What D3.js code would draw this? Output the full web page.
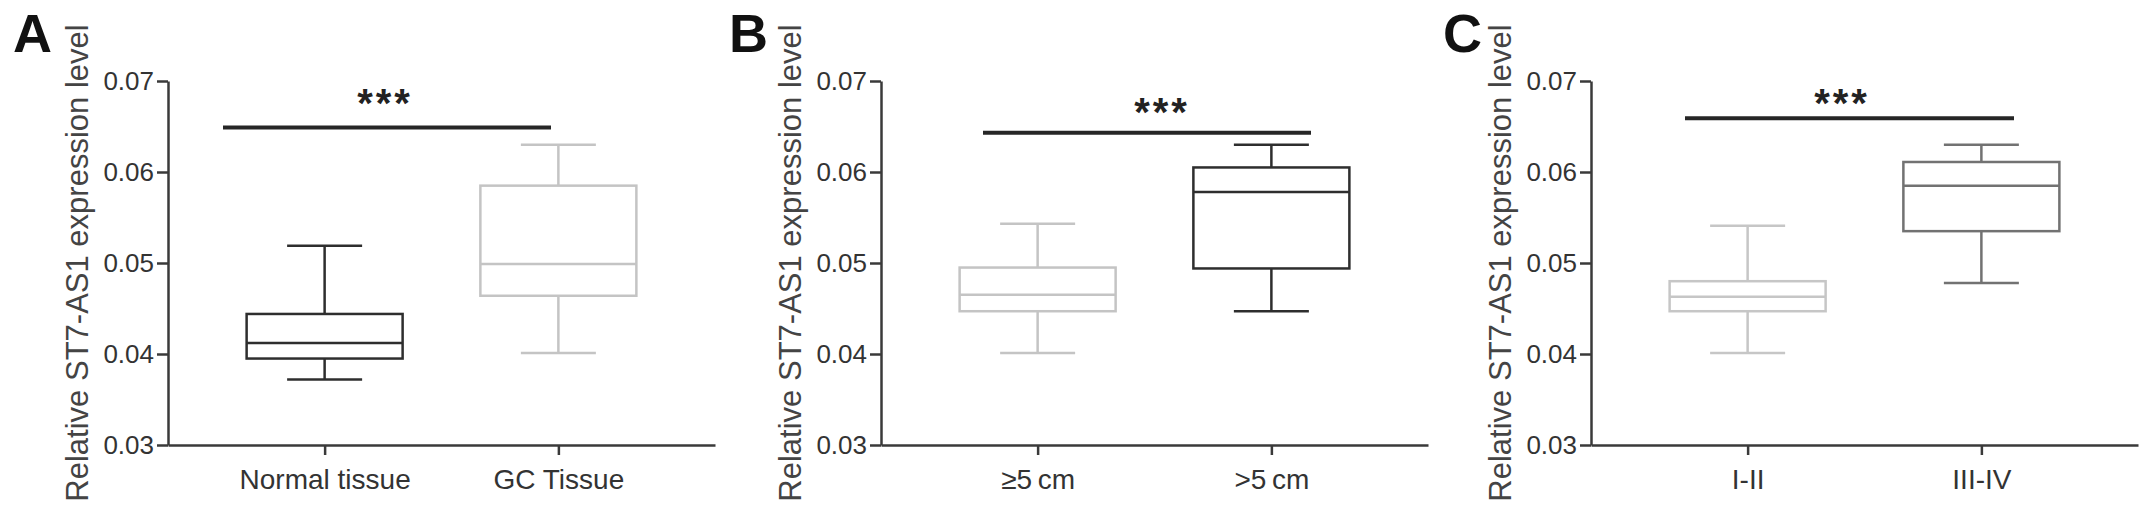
<!DOCTYPE html>
<html>
<head>
<meta charset="utf-8">
<script src="https://cdn.jsdelivr.net/npm/d3@7"></script>
<style>
  body { margin: 0; background: #fff; }
  text { font-family: "Liberation Sans", Arial, sans-serif; }
</style>
</head>
<body>
<div id="chart"></div>
<script>
// panel letters and group labels
var panelLetters = ["A", "B", "C"];
var groupsA = ["Normal tissue", "GC Tissue"];
var groupsB = ["\u22655\u2009cm", ">5\u2009cm"];
var groupsC = ["I-II", "III-IV"];

// box stats: [min, q1, median, q3, max]
var statsA = [[0.0372, 0.0395, 0.0412, 0.0444, 0.0519], [0.0401, 0.0464, 0.0499, 0.0585, 0.0630]];
var statsB = [[0.0401, 0.0447, 0.0465, 0.0495, 0.0543], [0.0447, 0.0494, 0.0578, 0.0605, 0.0630]];
var statsC = [[0.0401, 0.0447, 0.0463, 0.0480, 0.0541], [0.0478, 0.0535, 0.0585, 0.0611, 0.0630]];

// level of the significance bar
var sigLevels = [0.0649, 0.0643, 0.0659];
var sigLabel = "***";

var yTicks = [0.03, 0.04, 0.05, 0.06, 0.07];
var yTitle = "Relative ST7-AS1 expression level";

var panels = [
	{ letter: panelLetters[0], groups: groupsA, stats: statsA, sig: sigLevels[0], colors: ["#2e2e2e", "#c4c4c4"], left: 0, axisX: 168, sigX: [223, 551], starX: 385, starGap: 25 },
	{ letter: panelLetters[1], groups: groupsB, stats: statsB, sig: sigLevels[1], colors: ["#c4c4c4", "#2e2e2e"], left: 720, axisX: 161, sigX: [263, 591], starX: 442, starGap: 22 },
	{ letter: panelLetters[2], groups: groupsC, stats: statsC, sig: sigLevels[2], colors: ["#c6c6c6", "#727272"], left: 1430, axisX: 161, sigX: [255, 584], starX: 412, starGap: 16 }
];

var width = 2150, height = 515;

var svg = d3.select("#chart")
	.append("svg")
	.attr("width", width)
	.attr("height", height);

var y = d3.scaleLinear()
	.domain([0.03, 0.07])
	.range([445, 81]);

panels.forEach(function (p) {
	var g = svg.append("g")
		.attr("transform", "translate(" + p.left + ",0)");

	// panel letter
	g.append("text")
		.attr("x", p.letter === "B" ? 9 : 13)
		.attr("y", 52)
		.attr("font-size", 54)
		.attr("font-weight", "bold")
		.attr("fill", "#111")
		.text(p.letter);

	var x = d3.scalePoint()
		.domain(p.groups)
		.range([p.axisX, p.axisX + 547])
		.padding(0.67);

	// y axis
	var yAxis = g.append("g")
		.attr("transform", "translate(" + p.axisX + ",0)")
		.call(d3.axisLeft(y).tickValues(yTicks).tickFormat(d3.format(".2f")).tickSize(11).tickSizeOuter(0).tickPadding(3));
	yAxis.select(".domain").attr("stroke", "#3a3a3a").attr("stroke-width", 2.5);
	yAxis.selectAll(".tick line").attr("stroke", "#3a3a3a").attr("stroke-width", 2.5);
	yAxis.selectAll(".tick text")
		.attr("font-size", 26)
		.attr("fill", "#333")
		.attr("font-family", "'Liberation Sans', Arial, sans-serif");

	// x axis
	var xAxis = g.append("g")
		.attr("transform", "translate(0," + y(0.03) + ")")
		.call(d3.axisBottom(x).tickSize(10).tickSizeOuter(0).tickPadding(14));
	xAxis.select(".domain").attr("stroke", "#3a3a3a").attr("stroke-width", 2.5);
	xAxis.selectAll(".tick line").attr("stroke", "#3a3a3a").attr("stroke-width", 2.5);
	xAxis.selectAll(".tick text")
		.attr("font-size", 28)
		.attr("fill", "#333")
		.attr("font-family", "'Liberation Sans', Arial, sans-serif");

	// y title
	g.append("text")
		.attr("transform", "translate(" + (p.axisX - 80) + ",263) rotate(-90)")
		.attr("text-anchor", "middle")
		.attr("font-size", 31)
		.attr("fill", "#444")
		.text(yTitle);

	// boxes
	var boxW = 156, capW = 75;
	var box = g.selectAll(".box")
		.data(p.stats)
		.enter()
		.append("g")
		.attr("class", "box")
		.attr("stroke", function (d, i) { return p.colors[i]; })
		.attr("stroke-width", 2.5)
		.attr("fill", "none");

	box.append("line")
		.attr("x1", function (d, i) { return x(p.groups[i]); })
		.attr("x2", function (d, i) { return x(p.groups[i]); })
		.attr("y1", function (d) { return y(d[0]); })
		.attr("y2", function (d) { return y(d[1]); });
	box.append("line")
		.attr("x1", function (d, i) { return x(p.groups[i]); })
		.attr("x2", function (d, i) { return x(p.groups[i]); })
		.attr("y1", function (d) { return y(d[3]); })
		.attr("y2", function (d) { return y(d[4]); });
	[0, 4].forEach(function (k) {
		box.append("line")
			.attr("x1", function (d, i) { return x(p.groups[i]) - capW / 2; })
			.attr("x2", function (d, i) { return x(p.groups[i]) + capW / 2; })
			.attr("y1", function (d) { return y(d[k]); })
			.attr("y2", function (d) { return y(d[k]); });
	});
	box.append("rect")
		.attr("x", function (d, i) { return x(p.groups[i]) - boxW / 2; })
		.attr("y", function (d) { return y(d[3]); })
		.attr("width", boxW)
		.attr("height", function (d) { return y(d[1]) - y(d[3]); });
	box.append("line")
		.attr("x1", function (d, i) { return x(p.groups[i]) - boxW / 2; })
		.attr("x2", function (d, i) { return x(p.groups[i]) + boxW / 2; })
		.attr("y1", function (d) { return y(d[2]); })
		.attr("y2", function (d) { return y(d[2]); });

	// significance bar
	g.append("line")
		.attr("x1", p.sigX[0])
		.attr("x2", p.sigX[1])
		.attr("y1", y(p.sig))
		.attr("y2", y(p.sig))
		.attr("stroke", "#262626")
		.attr("stroke-width", 4);

	g.append("text")
		.attr("x", p.starX)
		.attr("y", y(p.sig) - p.starGap + 15)
		.attr("text-anchor", "middle")
		.attr("font-size", 40)
		.attr("font-weight", "bold")
		.attr("letter-spacing", 3)
		.attr("fill", "#222")
		.text(sigLabel);
});
</script>
</body>
</html>
